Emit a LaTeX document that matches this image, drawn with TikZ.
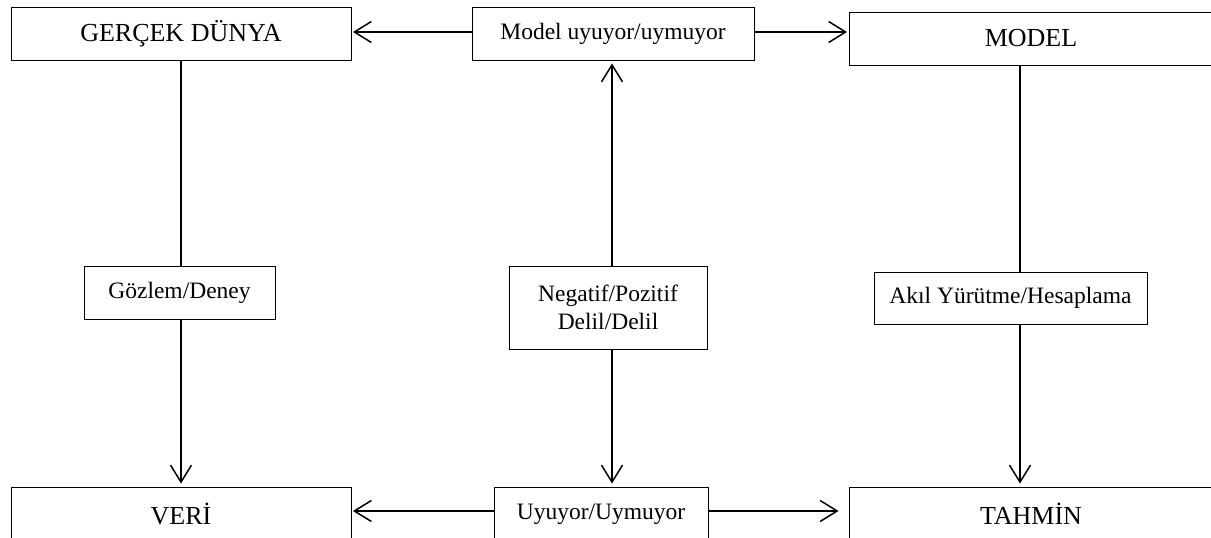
\documentclass[tikz,border=0pt]{standalone}
\usepackage{fontspec}
\setmainfont{Liberation Serif}
\usetikzlibrary{arrows.meta,calc}

\tikzset{
  box/.style={draw, line width=0.9pt, inner sep=0pt, align=center},
  bigbox/.style={box, font=\fontsize{26}{30}\selectfont},
  smallbox/.style={box, font=\fontsize{23.5}{28}\selectfont},
  link/.style={line width=1.5pt},
  arrowlink/.style={link, -{Straight Barb[length=17pt,width=21pt,line width=1.5pt]}, shorten >=3pt},
}

\begin{document}
\begin{tikzpicture}[x=1pt,y=-1pt]
  \useasboundingbox (0,0) rectangle (1211,538);
  \clip (0,0) rectangle (1211,538);

  % top row
  \node[bigbox, minimum width=340pt, minimum height=53pt] (gd) at (181,33.5) {GERÇEK DÜNYA};
  \node[smallbox, minimum width=282pt, minimum height=53pt] (mu) at (613,33.5) {Model uyuyor/uymuyor};
  \node[bigbox, minimum width=364pt, minimum height=53pt] (mo) at (1031,38.5) {MODEL};

  % middle row
  \node[smallbox, minimum width=191pt, minimum height=53pt] (gz) at (179.5,292.5) {Gözlem/Deney};
  \node[smallbox, minimum width=198pt, minimum height=83pt] (nd) at (608,307.5) {Negatif/Pozitif\\Delil/Delil};
  \node[smallbox, minimum width=273pt, minimum height=52pt] (ak) at (1010.5,298) {Akıl Yürütme/Hesaplama};

  % bottom row
  \node[bigbox, minimum width=340pt, minimum height=54pt] (ve) at (181,514) {VERİ};
  \node[smallbox, minimum width=214pt, minimum height=54pt] (uu) at (601,514) {Uyuyor/Uymuyor};
  \node[bigbox, minimum width=364pt, minimum height=54pt] (ta) at (1031,514) {TAHMİN};

  % column guides
  \coordinate (c1) at (181,0);
  \coordinate (c2) at (612,0);
  \coordinate (c3) at (1020,0);

  % left column
  \draw[link] (gd.south -| c1) -- (gz.north -| c1);
  \draw[arrowlink] (gz.south -| c1) -- (ve.north -| c1);

  % middle column
  \draw[arrowlink] (nd.north -| c2) -- (mu.south -| c2);
  \draw[arrowlink] (nd.south -| c2) -- (uu.north -| c2);

  % right column
  \draw[link] (mo.south -| c3) -- (ak.north -| c3);
  \draw[arrowlink] (ak.south -| c3) -- (ta.north -| c3);

  % top row links
  \draw[arrowlink, shorten >=1.5pt] ($(mu.west)+(0,-1.5)$) -- ($(gd.east)+(0,-1.5)$);
  \draw[arrowlink, shorten >=1.5pt] ($(mu.east)+(0,-1.5)$) -- ($(mu.east -| mo.west)+(0,-1.5)$);

  % bottom row links
  \draw[arrowlink, shorten >=1.5pt] ($(uu.west)+(0,-3)$) -- ($(uu.west -| ve.east)+(0,-3)$);
  \draw[arrowlink, shorten >=10pt] ($(uu.east)+(0,-3)$) -- ($(uu.east -| ta.west)+(0,-3)$);
\end{tikzpicture}
\end{document}
